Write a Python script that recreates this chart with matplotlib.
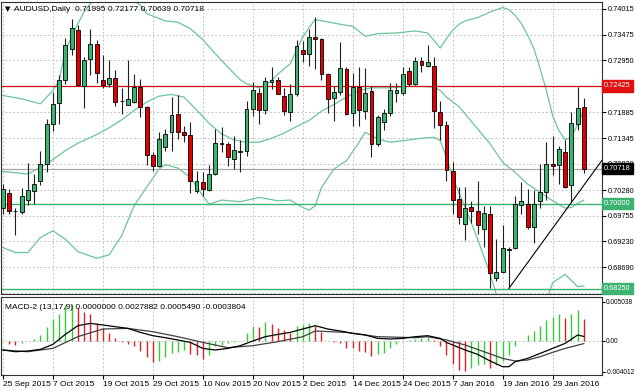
import numpy as np
import matplotlib.pyplot as plt
from matplotlib.transforms import blended_transform_factory

plt.rcParams['font.family'] = ['Liberation Sans', 'DejaVu Sans']

# daily candles, 25 Sep 2015 .. 5 Feb 2016 (bar index 0..93)
opens = [0.6991, 0.7022, 0.6985, 0.6982, 0.7007, 0.7025, 0.7047, 0.7082, 0.7163, 0.7207,
         0.7254, 0.7319, 0.7358, 0.7243, 0.7298, 0.7328, 0.7255, 0.7247, 0.7259, 0.7212,
         0.7204, 0.7209, 0.7241, 0.7199, 0.7101, 0.7077, 0.7117, 0.7147, 0.7185, 0.7147,
         0.7141, 0.7027, 0.7044, 0.7028, 0.7060, 0.7124, 0.7122, 0.7092, 0.7106, 0.7109,
         0.7194, 0.7228, 0.7192, 0.7251, 0.7254, 0.7222, 0.7188, 0.7226, 0.7317, 0.7309,
         0.7342, 0.7339, 0.7267, 0.7218, 0.7230, 0.7278, 0.7186, 0.7241, 0.7190, 0.7232,
         0.7122, 0.7168, 0.7186, 0.7227, 0.7227, 0.7274, 0.7247, 0.7294, 0.7283, 0.7283,
         0.7188, 0.7161, 0.7068, 0.7009, 0.6958, 0.6994, 0.6984, 0.6947, 0.6978, 0.6846,
         0.6860, 0.6904, 0.6908, 0.6998, 0.7000, 0.6952, 0.7006, 0.7023, 0.7082, 0.7080,
         0.7106, 0.7038, 0.7163, 0.71995]
highs = [0.7040, 0.7030, 0.6992, 0.7033, 0.7083, 0.7062, 0.7109, 0.7175, 0.7230, 0.7264,
         0.7340, 0.7381, 0.7367, 0.7302, 0.7360, 0.7336, 0.7305, 0.7296, 0.7276, 0.7238,
         0.7296, 0.7267, 0.7257, 0.7200, 0.7106, 0.7147, 0.7154, 0.7219, 0.7223, 0.7159,
         0.7168, 0.7068, 0.7066, 0.7080, 0.7154, 0.7157, 0.7126, 0.7140, 0.7130, 0.7212,
         0.7250, 0.7238, 0.7261, 0.7282, 0.7261, 0.7238, 0.7247, 0.7336, 0.7335, 0.7360,
         0.7384, 0.7340, 0.7268, 0.7243, 0.7333, 0.7281, 0.7269, 0.7282, 0.7280, 0.7243,
         0.7183, 0.7195, 0.7248, 0.7248, 0.7281, 0.7281, 0.7302, 0.7302, 0.7327, 0.7302,
         0.7212, 0.7171, 0.7085, 0.7035, 0.7035, 0.7006, 0.7047, 0.6996, 0.6996, 0.6927,
         0.6956, 0.6911, 0.7016, 0.7044, 0.7030, 0.7028, 0.7082, 0.7126, 0.7140, 0.7119,
         0.7130, 0.7188, 0.7241, 0.72177]
lows = [0.6978, 0.6978, 0.6936, 0.6978, 0.6998, 0.6999, 0.7039, 0.7066, 0.7149, 0.7164,
        0.7247, 0.7305, 0.7244, 0.7197, 0.7264, 0.7248, 0.7238, 0.7241, 0.7200, 0.7185,
        0.7202, 0.7208, 0.7178, 0.7080, 0.7068, 0.7075, 0.7109, 0.7109, 0.7133, 0.7126,
        0.7021, 0.7021, 0.7016, 0.7027, 0.7059, 0.7106, 0.7078, 0.7071, 0.7066, 0.7099,
        0.7181, 0.7163, 0.7185, 0.7236, 0.7225, 0.7183, 0.7170, 0.7222, 0.7291, 0.7283,
        0.7278, 0.7255, 0.7186, 0.7171, 0.7223, 0.7183, 0.7159, 0.7159, 0.7174, 0.7095,
        0.7119, 0.7152, 0.7181, 0.7209, 0.7223, 0.7243, 0.7245, 0.7271, 0.7281, 0.7156,
        0.7131, 0.7047, 0.6978, 0.6959, 0.6925, 0.6961, 0.6937, 0.6910, 0.6826, 0.6841,
        0.6859, 0.6826, 0.6907, 0.6978, 0.6947, 0.6918, 0.6991, 0.7007, 0.7058, 0.7040,
        0.7032, 0.7003, 0.7152, 0.70639]
closes = [0.7030, 0.6984, 0.6984, 0.7016, 0.7028, 0.7040, 0.7082, 0.7163, 0.7205, 0.7254,
          0.7326, 0.7362, 0.7245, 0.7296, 0.7328, 0.7269, 0.7245, 0.7259, 0.7209, 0.7211,
          0.7216, 0.7241, 0.7199, 0.7101, 0.7077, 0.7133, 0.7144, 0.7183, 0.7147, 0.7141,
          0.7047, 0.7046, 0.7030, 0.7060, 0.7124, 0.7123, 0.7095, 0.7111, 0.7109, 0.7194,
          0.7234, 0.7192, 0.7252, 0.7255, 0.7226, 0.7190, 0.7226, 0.7324, 0.7309, 0.7342,
          0.7338, 0.7267, 0.7216, 0.7230, 0.7280, 0.7185, 0.7241, 0.7192, 0.7227, 0.7122,
          0.7179, 0.7186, 0.7234, 0.7234, 0.7267, 0.7247, 0.7294, 0.7285, 0.7291, 0.7190,
          0.7161, 0.7069, 0.7007, 0.6973, 0.6992, 0.6984, 0.6956, 0.6980, 0.6858, 0.6860,
          0.6908, 0.6906, 0.6999, 0.7006, 0.6952, 0.7000, 0.7023, 0.7082, 0.7078, 0.7113,
          0.7035, 0.7166, 0.7197, 0.70718]

# Bollinger bands (bar index, price)
upper_idx = [0, 3, 6, 8, 9, 10, 12, 13, 14, 16, 18, 20, 22, 23, 26, 28, 30, 32, 34, 36, 38, 39,
             41, 42, 43, 44, 45, 46, 47, 48, 49, 50, 52, 54, 56, 58, 60, 63, 66, 68, 69, 70,
             71, 72, 73, 74, 76, 78, 80, 81, 82, 83, 84, 85, 86, 87, 88, 89, 90, 91, 92, 93]
upper_val = [0.72226, 0.72157, 0.72054, 0.72329, 0.72536, 0.73155, 0.73705, 0.73946, 0.74118,
             0.74290, 0.74325, 0.74256, 0.74084, 0.73912, 0.73760, 0.73733, 0.73602, 0.73375,
             0.73086, 0.72811, 0.72550, 0.72467, 0.72384, 0.72426, 0.72536, 0.72660, 0.72777,
             0.72880, 0.73155, 0.73430, 0.73623, 0.73788, 0.73740, 0.73692, 0.73650, 0.73444,
             0.73499, 0.73513, 0.73554, 0.73513, 0.73361, 0.73203, 0.73396, 0.73568, 0.73692,
             0.73760, 0.73829, 0.73946, 0.74036, 0.73994, 0.73877, 0.73705, 0.73465, 0.73189,
             0.72777, 0.72329, 0.71813, 0.71504, 0.71311, 0.71366, 0.71628, 0.71917]
mid_idx = [0, 4, 6, 7, 10, 12, 15, 17, 19, 21, 23, 25, 27, 29, 31, 33, 35, 37, 39, 41, 43, 45,
           47, 49, 51, 53, 55, 57, 59, 62, 65, 67, 69, 70, 71, 73, 76, 78, 80, 82, 84, 86, 88,
           90, 91, 92, 93]
mid_val = [0.70664, 0.70609, 0.70747, 0.70816, 0.71091, 0.71242, 0.71421, 0.71559, 0.71724,
           0.71917, 0.72089, 0.72212, 0.72247, 0.72192, 0.71930, 0.71655, 0.71435, 0.71311,
           0.71263, 0.71263, 0.71346, 0.71449, 0.71586, 0.71710, 0.71903, 0.72041, 0.72192,
           0.72329, 0.72384, 0.72384, 0.72412, 0.72412, 0.72398, 0.72329, 0.72192, 0.71999,
           0.71538, 0.71229, 0.70850, 0.70644, 0.70403, 0.70231, 0.70059, 0.69908, 0.69922,
           0.70005, 0.70073]
lower_idx = [0, 2, 4, 6, 8, 10, 12, 15, 17, 19, 21, 23, 25, 26, 28, 30, 32, 33, 35, 38, 41, 44,
             46, 48, 49, 50, 51, 53, 55, 57, 58, 60, 62, 65, 67, 69, 70, 71, 72, 74, 76, 78,
             79, 81, 84, 86, 87, 88, 90, 92, 93]
lower_val = [0.69096, 0.68993, 0.68993, 0.69302, 0.69440, 0.69268, 0.69013, 0.68876, 0.68945,
             0.69337, 0.69956, 0.70334, 0.70713, 0.70802, 0.70733, 0.70541, 0.70162, 0.69991,
             0.70073, 0.70039, 0.70128, 0.70059, 0.70073, 0.69922, 0.69866, 0.69956, 0.70334,
             0.70713, 0.70885, 0.71263, 0.71469, 0.71332, 0.71263, 0.71311, 0.71346, 0.71366,
             0.71297, 0.70953, 0.70541, 0.69922, 0.69268, 0.68545, 0.68133, 0.67582, 0.67307,
             0.67582, 0.67995, 0.68373, 0.68545, 0.68291, 0.68305]

# MACD-2 (13,17,9): histogram per bar, main and signal lines read at some bars
macd_hist = [-0.00010, -0.00048, -0.00056, -0.00026, -0.00009, 0.00022, 0.00074, 0.00182, 0.00281, 0.00342,
             0.00463, 0.00476, 0.00420, 0.00368, 0.00342, 0.00225, 0.00160, 0.00095, 0.00035, -0.00022,
             -0.00048, -0.00065, -0.00130, -0.00208, -0.00281, -0.00264, -0.00208, -0.00165, -0.00143, -0.00121,
             -0.00178, -0.00186, -0.00238, -0.00186, -0.00065, -0.00056, -0.00026, -0.00013, -0.00004, 0.00095,
             0.00195, 0.00173, 0.00247, 0.00217, 0.00160, 0.00139, 0.00095, 0.00195, 0.00203, 0.00225,
             0.00195, 0.00117, -0.00004, -0.00022, -0.00026, -0.00091, -0.00100, -0.00134, -0.00152, -0.00195,
             -0.00178, -0.00165, -0.00100, -0.00048, -0.00004, 0.00009, 0.00022, 0.00030, 0.00052, 0.00009,
             -0.00065, -0.00186, -0.00307, -0.00381, -0.00390, -0.00359, -0.00316, -0.00307, -0.00351, -0.00316,
             -0.00264, -0.00186, -0.00065, -0.00004, 0.00074, 0.00126, 0.00195, 0.00268, 0.00312, 0.00342,
             0.00299, 0.00342, 0.00398, 0.00279]
macd_idx = [0, 2, 4, 6, 8, 10, 12, 14, 16, 18, 20, 22, 24, 26, 28, 30, 32, 34, 36, 38, 40, 42, 44,
            46, 48, 50, 52, 54, 56, 58, 60, 62, 64, 66, 68, 70, 71, 72, 74, 76, 78, 80, 81, 82, 84,
            86, 88, 90, 92, 93]
macd_val = [-0.00121, -0.00143, -0.00134, -0.00113, -0.00048, 0.00082, 0.00195, 0.00225, 0.00204,
            0.00182, 0.00160, 0.00108, 0.00065, 0.00039, 0.00009, -0.00022, -0.00100, -0.00121,
            -0.00100, -0.00065, -0.00004, 0.00052, 0.00082, 0.00108, 0.00152, 0.00195, 0.00152,
            0.00126, 0.00095, 0.00074, 0.00030, 0.00022, 0.00030, 0.00052, 0.00065, 0.00030,
            -0.00022, -0.00056, -0.00121, -0.00178, -0.00264, -0.00338, -0.00338, -0.00273,
            -0.00230, -0.00165, -0.00100, -0.00035, 0.00074, 0.00055]
sig_idx = [0, 4, 8, 12, 16, 20, 24, 28, 32, 36, 40, 44, 48, 50, 55, 60, 66, 68, 71, 74, 77, 80,
           82, 84, 86, 88, 90, 93]
sig_val = [-0.00121, -0.00143, -0.00100, 0.00052, 0.00152, 0.00160, 0.00117, 0.00052, -0.00022,
           -0.00091, -0.00065, -0.00013, 0.00052, 0.00126, 0.00108, 0.00052, 0.00039, 0.00052,
           0.00009, -0.00056, -0.00143, -0.00230, -0.00264, -0.00251, -0.00208, -0.00152,
           -0.00100, -0.00038]

# levels drawn on the chart
res_level = 0.72425
sup_levels = [0.70000, 0.68250]
trend_pts = [(81, 0.68256), (91, 0.70025)]

price_ticks = [0.74015, 0.73475, 0.72950, 0.72425, 0.71885, 0.71345, 0.70820, 0.70280,
               0.69755, 0.69230, 0.68690, 0.68165]
macd_ticks = [0.005038, 0.0, -0.004012]
macd_tick_labels = ['0.005038', '0.00', '-0.004012']
date_pos = [0, 8, 16, 24, 32, 40, 48, 56, 64, 72, 80, 88]
date_labels = ['25 Sep 2015', '7 Oct 2015', '19 Oct 2015', '29 Oct 2015', '10 Nov 2015',
               '20 Nov 2015', '2 Dec 2015', '14 Dec 2015', '24 Dec 2015', '7 Jan 2016',
               '19 Jan 2016', '29 Jan 2016']

bull = '#3CB371'
bear = '#E00000'
band_c = '#6CC49A'
grid_c = '#C4C4C4'
W, H = 635, 391

fig = plt.figure(figsize=(W / 100, H / 100), dpi=100)
ax = fig.add_axes([1 / W, 1 - 294 / H, 601 / W, 292 / H])
axm = fig.add_axes([1 / W, 1 - 375 / H, 601 / W, 78 / H])

xlim = (-0.3, 95.9)
n = len(closes)
x = np.arange(n)
o = np.array(opens); c = np.array(closes); h = np.array(highs); l = np.array(lows)

# grid
for a in (ax, axm):
    for p in date_pos:
        a.axvline(p, color=grid_c, lw=0.7, ls=(0, (2, 2)), zorder=0)
for p in price_ticks:
    ax.axhline(p, color=grid_c, lw=0.7, ls=(0, (2, 2)), zorder=0)

# bands
ax.plot(upper_idx, upper_val, color=band_c, lw=0.9, zorder=1)
ax.plot(mid_idx, mid_val, color=band_c, lw=0.9, zorder=1)
ax.plot(lower_idx, lower_val, color=band_c, lw=0.9, zorder=1)

# level lines
ax.axhline(res_level, color='#D01010', lw=0.9, zorder=1)
for lv in sup_levels:
    ax.axhline(lv, color=bull, lw=1.0, zorder=1)
ax.axhline(closes[-1], color='#A8A8A8', lw=0.9, zorder=1)

# trend line (ray to the right edge)
(x0, y0), (x1, y1) = trend_pts
slope = (y1 - y0) / (x1 - x0)
ax.plot([x0, xlim[1]], [y0, y0 + slope * (xlim[1] - x0)], color='black', lw=0.8, zorder=2)

# candles
ax.vlines(x, l, h, color='#202020', lw=0.8, zorder=3)
up = c >= o
body_lo = np.minimum(o, c)
body_h = np.maximum(np.abs(c - o), 0.00008)
ax.bar(x[up], body_h[up], bottom=body_lo[up], width=0.62, color=bull, edgecolor='black',
       linewidth=0.6, zorder=4)
ax.bar(x[~up], body_h[~up], bottom=body_lo[~up], width=0.62, color=bear, edgecolor='black',
       linewidth=0.6, zorder=4)

ax.set_xlim(*xlim)
ax.set_ylim(0.68140, 0.74150)
ax.yaxis.tick_right()
ax.set_yticks(price_ticks)
# the resistance tick label sits under its own red tag
ax.set_yticklabels(['' if p == res_level else '%.5f' % p for p in price_ticks])
ax.tick_params(axis='y', labelsize=5.3, length=3, pad=1.5, colors='black')
ax.set_xticks(date_pos)
ax.tick_params(axis='x', labelbottom=False, length=0)


def tag(a, t, y, fc):
    a.text(1.003, y, t, transform=blended_transform_factory(a.transAxes, a.transData),
           fontsize=5.3, color='white', va='center', ha='left', zorder=10, clip_on=False,
           bbox=dict(boxstyle='square,pad=0.3', fc=fc, ec=fc))


tag(ax, '%.5f' % res_level, res_level, '#E01010')
tag(ax, '%.5f' % closes[-1], closes[-1], 'black')
for lv in sup_levels:
    tag(ax, '%.5f' % lv, lv, bull)

ax.text(0.007, 0.975, '\u25BC', transform=ax.transAxes, fontsize=5, va='center', ha='left',
        family='DejaVu Sans')
ax.text(0.022, 0.975, 'AUDUSD,Daily  %.5f %.5f %.5f %.5f' % (opens[-1], highs[-1], lows[-1], closes[-1]),
        transform=ax.transAxes, fontsize=6, va='center', ha='left')

# MACD panel
hist = np.array(macd_hist)
hcol = ['#33CC33' if i == 0 or hist[i] >= hist[i - 1] else '#E02020' for i in range(n)]
axm.vlines(x, 0, hist, colors=hcol, lw=1.0, zorder=2)
axm.axhline(0, color=grid_c, lw=0.7, ls=(0, (2, 2)), zorder=0)
axm.plot(sig_idx, sig_val, color='#404040', lw=0.9, zorder=3)
axm.plot(macd_idx, macd_val, color='black', lw=0.9, zorder=3)
axm.set_xlim(*xlim)
axm.set_ylim(-0.00446, 0.00568)
axm.yaxis.tick_right()
axm.set_yticks(macd_ticks)
axm.set_yticklabels(macd_tick_labels)
axm.tick_params(axis='y', labelsize=4.7, length=2, pad=1)
axm.set_xticks(date_pos)
axm.set_xticklabels(date_labels, ha='left')
axm.tick_params(axis='x', labelsize=6, length=3, pad=1.5)
axm.text(0.006, 0.86, 'MACD-2 (13,17,9) 0.0000000 0.0027882 0.0005490 -0.0003804',
         transform=axm.transAxes, fontsize=6, va='center', ha='left')

for a in (ax, axm):
    for s in a.spines.values():
        s.set_color('#303030')
        s.set_linewidth(0.8)

fig.savefig('out.png', dpi=100, facecolor='white')
